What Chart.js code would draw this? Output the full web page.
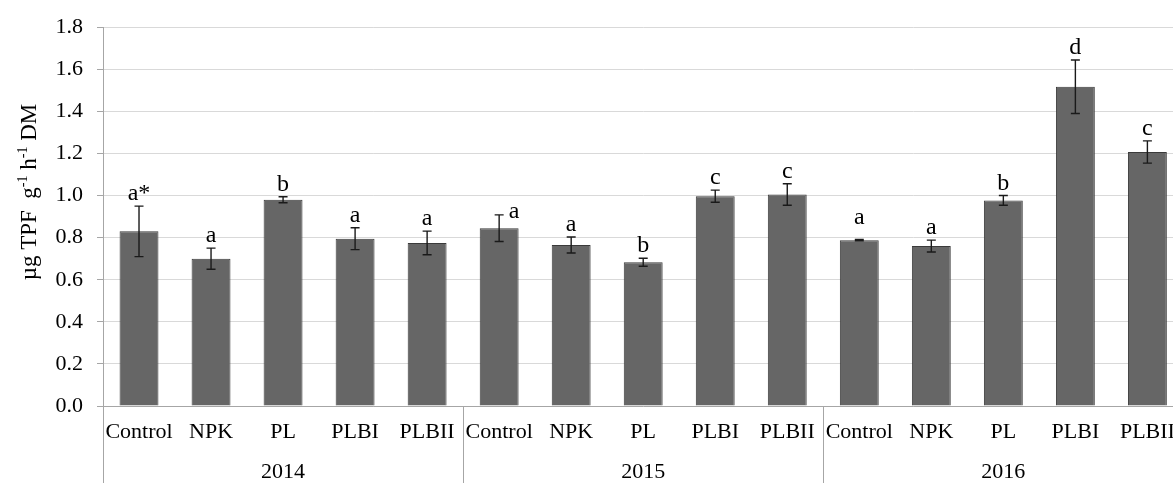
<!DOCTYPE html>
<html>
<head>
<meta charset="utf-8">
<script src="https://cdn.jsdelivr.net/npm/chart.js@4/dist/chart.umd.min.js"></script>
<style>
  html, body { margin: 0; padding: 0; background: #fff; overflow: hidden; }
  #wrap { width: 1188px; height: 483px; }
</style>
</head>
<body>
<div id="wrap"><canvas id="myChart"></canvas></div>
<script>
// data
var treatments = ['Control', 'NPK', 'PL', 'PLBI', 'PLBII'];
var years = ['2014', '2015', '2016'];

var means2014 = [0.830, 0.700, 0.980, 0.795, 0.775];
var means2015 = [0.845, 0.765, 0.683, 0.997, 1.005];
var means2016 = [0.788, 0.760, 0.977, 1.517, 1.207];

var err2014 = [0.120, 0.050, 0.014, 0.052, 0.056];
var err2015 = [0.063, 0.038, 0.019, 0.029, 0.051];
var err2016 = [0.003, 0.028, 0.023, 0.127, 0.053];

var letters2014 = ['a*', 'a', 'b', 'a', 'a'];
var letters2015 = ['a', 'a', 'b', 'c', 'c'];
var letters2016 = ['a', 'a', 'b', 'd', 'c'];

var yTicks = [0.0, 0.2, 0.4, 0.6, 0.8, 1.0, 1.2, 1.4, 1.6, 1.8];

// y title pieces: [text, superscript?]
var yTitle = [['µg TPF  g', false], ['-1', true], [' h', false], ['-1', true], [' DM', false]];

// build what chart.js needs
var labels = [].concat(treatments, treatments, treatments);
var means = [].concat(means2014, means2015, means2016);
var errs = [].concat(err2014, err2015, err2016);
var letters = [].concat(letters2014, letters2015, letters2016);

var FONT = '"Liberation Serif", "Times New Roman", serif';
var AXIS = '#a6a6a6';

// a couple of letters sit off the usual spot in the original
var letterNudge = { 5: [15, 9], 10: [0, -10] };

var errorBars = {
  id: 'errorBars',
  afterDatasetsDraw: function(chart) {
    var ctx = chart.ctx;
    var y = chart.scales.y;
    var meta = chart.getDatasetMeta(0);
    ctx.save();
    ctx.strokeStyle = '#1a1a1a';
    ctx.lineWidth = 1.4;
    meta.data.forEach(function(bar, i) {
      var top = y.getPixelForValue(means[i] + errs[i]);
      var bot = y.getPixelForValue(means[i] - errs[i]);
      ctx.beginPath();
      ctx.moveTo(bar.x, top); ctx.lineTo(bar.x, bot);
      ctx.moveTo(bar.x - 4.5, top); ctx.lineTo(bar.x + 4.5, top);
      ctx.moveTo(bar.x - 4.5, bot); ctx.lineTo(bar.x + 4.5, bot);
      ctx.stroke();
    });
    // significance letters
    ctx.fillStyle = '#000';
    ctx.font = '24px ' + FONT;
    ctx.textAlign = 'center';
    ctx.textBaseline = 'alphabetic';
    meta.data.forEach(function(bar, i) {
      var n = letterNudge[i] || [0, 0];
      var top = y.getPixelForValue(means[i] + errs[i]);
      ctx.fillText(letters[i], bar.x + n[0], top - 6 + n[1]);
    });
    ctx.restore();
  }
};

var yearAxis = {
  id: 'yearAxis',
  afterDraw: function(chart) {
    var ctx = chart.ctx;
    var x = chart.scales.x;
    var area = chart.chartArea;
    var half = (x.getPixelForValue(1) - x.getPixelForValue(0)) / 2;
    ctx.save();
    ctx.strokeStyle = AXIS;
    ctx.lineWidth = 1;
    ctx.fillStyle = '#000';
    ctx.font = '22px ' + FONT;
    ctx.textAlign = 'center';
    ctx.textBaseline = 'middle';
    years.forEach(function(yr, g) {
      var first = g * treatments.length;
      var last = first + treatments.length - 1;
      var left = x.getPixelForValue(first) - half;
      var right = x.getPixelForValue(last) + half;
      ctx.beginPath();
      ctx.moveTo(Math.round(left) + 0.5, area.bottom);
      ctx.lineTo(Math.round(left) + 0.5, chart.height);
      ctx.moveTo(Math.round(right) + 0.5, area.bottom);
      ctx.lineTo(Math.round(right) + 0.5, chart.height);
      ctx.stroke();
      ctx.fillText(yr, (left + right) / 2, 472);
    });

    // rotated y title with real superscripts
    var big = '23px ' + FONT, small = '14px ' + FONT;
    var total = 0;
    yTitle.forEach(function(p) {
      ctx.font = p[1] ? small : big;
      total += ctx.measureText(p[0]).width;
    });
    ctx.translate(28, 192);
    ctx.rotate(-Math.PI / 2);
    ctx.textAlign = 'left';
    ctx.textBaseline = 'alphabetic';
    var cx = -total / 2;
    yTitle.forEach(function(p) {
      ctx.font = p[1] ? small : big;
      ctx.fillText(p[0], cx, p[1] ? -1 : 8);
      cx += ctx.measureText(p[0]).width;
    });
    ctx.restore();
  }
};

var ctx = document.getElementById('myChart').getContext('2d');
var myChart = new Chart(ctx, {
  type: 'bar',
  data: {
    labels: labels,
    datasets: [{
      data: means,
      backgroundColor: '#666666',
      borderColor: '#3a3a3a',
      borderWidth: 1,
      barPercentage: 0.54,
      categoryPercentage: 1.0
    }]
  },
  options: {
    responsive: true,
    maintainAspectRatio: false,
    animation: false,
    layout: { padding: { top: 24, right: 3, left: 0, bottom: 0 } },
    plugins: {
      legend: { display: false },
      tooltip: { enabled: false }
    },
    scales: {
      x: {
        grid: { drawOnChartArea: false, drawTicks: false },
        border: { color: AXIS, width: 1 },
        ticks: {
          color: '#000',
          font: { family: FONT, size: 22 },
          padding: 13,
          maxRotation: 0,
          autoSkip: false
        },
        afterFit: function(scale) { scale.height = 77; }
      },
      y: {
        min: yTicks[0],
        max: yTicks[yTicks.length - 1],
        afterBuildTicks: function(scale) {
          scale.ticks = yTicks.map(function(v) { return { value: v }; });
        },
        grid: { color: '#d9d9d9', tickColor: AXIS, tickLength: 6, lineWidth: 1 },
        border: { color: AXIS, width: 1 },
        ticks: {
          color: '#000',
          font: { family: FONT, size: 22 },
          padding: 14,
          callback: function(v) { return Number(v).toFixed(1); }
        },
        afterFit: function(scale) { scale.width = 103; }
      }
    }
  },
  plugins: [errorBars, yearAxis]
});
</script>
</body>
</html>
